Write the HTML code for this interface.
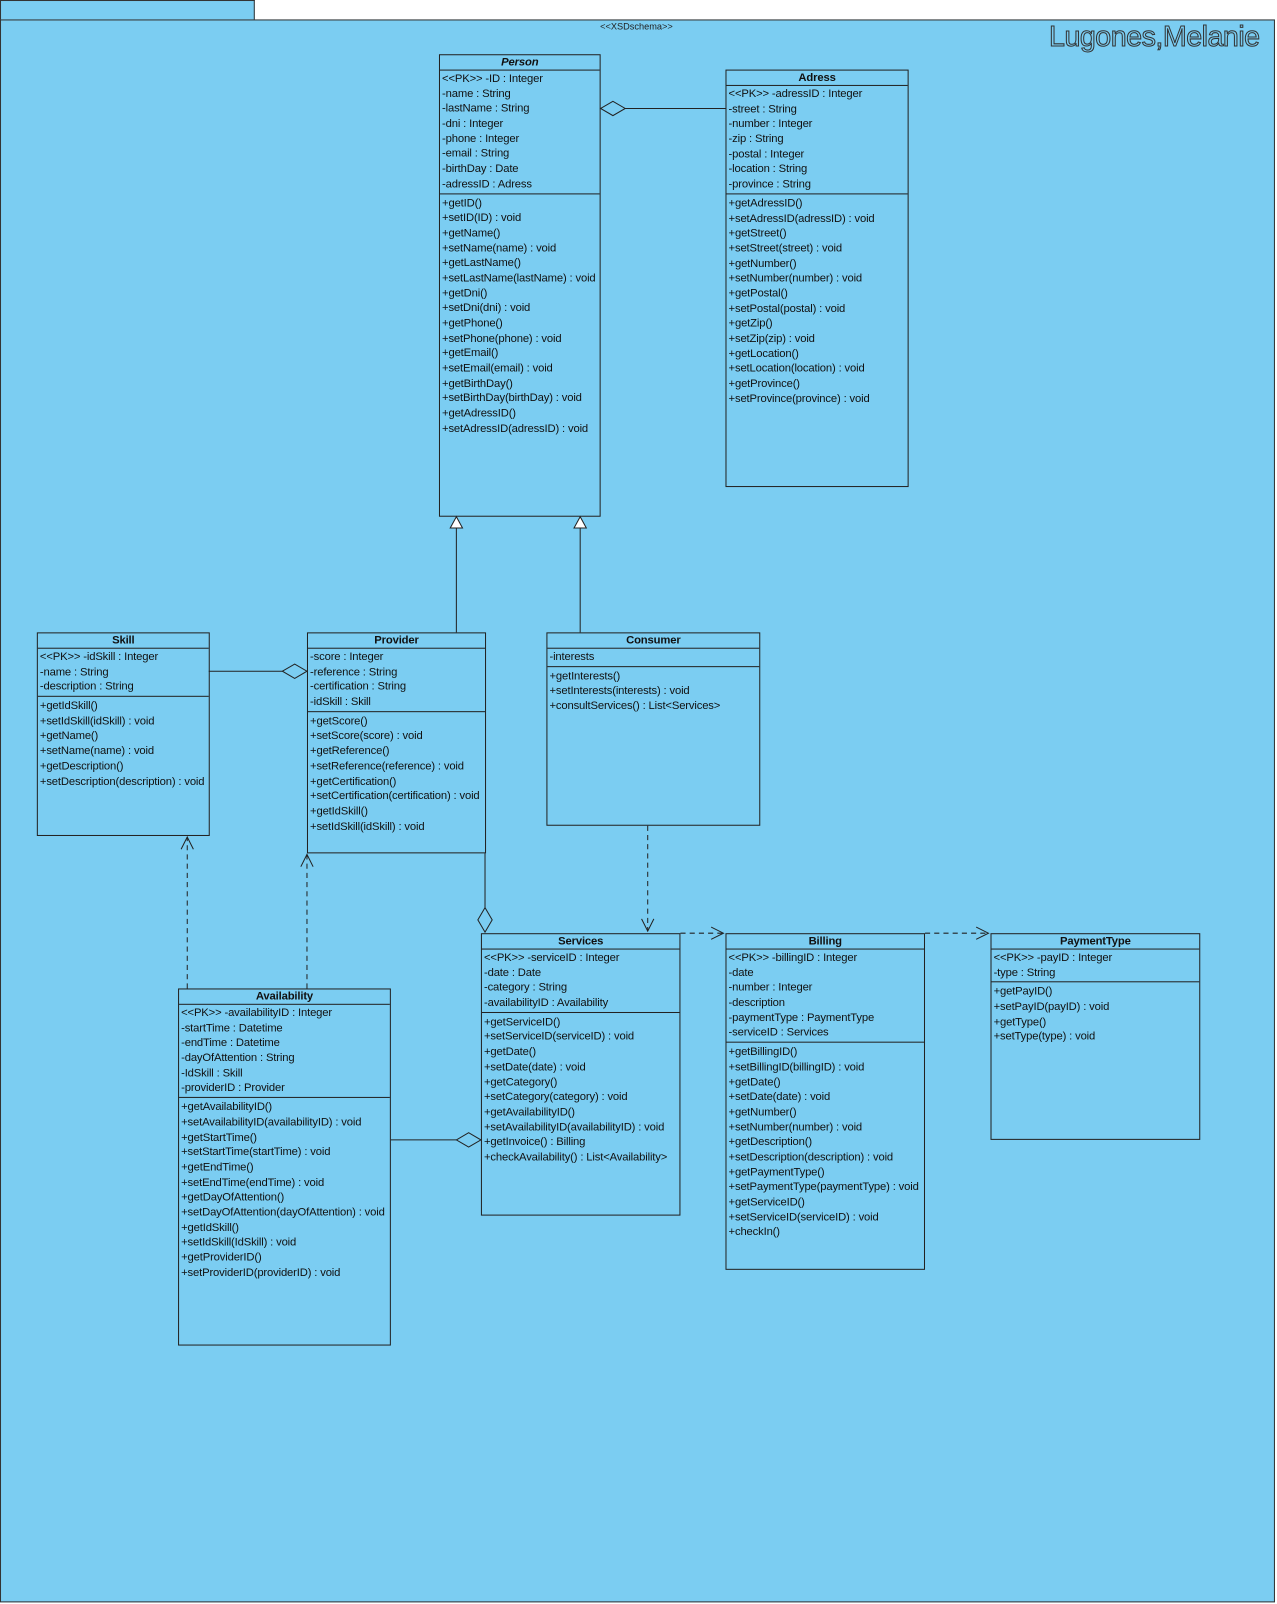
<!DOCTYPE html>
<html><head><meta charset="utf-8"><style>
*{margin:0;padding:0;box-sizing:border-box}
body{width:1277px;height:1604px;background:#fff;overflow:hidden;font-family:"Liberation Sans",Arial,sans-serif}
#w{position:absolute;left:0;top:0;width:1248px;height:1568px;transform:scale(1.02324);transform-origin:0 0}
.frame{position:absolute;left:0;top:19px;width:1246px;height:1547px;background:#7bcdf2;border:1px solid #333}
.tab{position:absolute;left:0;top:0;width:249px;height:20px;background:#7bcdf2;border:1px solid #333;border-bottom:none}
.box{position:absolute;border:1px solid #222;font-size:11px;color:#111;letter-spacing:-0.15px}
.t{height:15px;line-height:14px;text-align:center;font-weight:bold;border-bottom:1px solid #222}
.a{padding:1px 0 1px 2px;border-bottom:1px solid #222}
.m{padding:2px 0 0 2px}
.a div,.m div{height:14.7px;line-height:14.7px;white-space:nowrap}
svg{position:absolute;left:0;top:0}
</style></head><body><div id="w">
<div class="tab"></div><div class="frame"></div>
<div style="position:absolute;left:560px;top:21px;width:124px;text-align:center;font-size:9px;color:#222">&lt;&lt;XSDschema&gt;&gt;</div>
<div style="position:absolute;right:17px;top:20px;font-size:28px;color:#7bcdf2;-webkit-text-stroke:1px #333;letter-spacing:-0.5px">Lugones,Melanie</div>

<div class="box" style="left:429px;top:53px;width:158px;height:452px"><div class="t"><i>Person</i></div>
<div class="a"><div>&lt;&lt;PK&gt;&gt; -ID : Integer</div><div>-name : String</div><div>-lastName : String</div><div>-dni : Integer</div><div>-phone : Integer</div><div>-email : String</div><div>-birthDay : Date</div><div>-adressID : Adress</div></div>
<div class="m"><div>+getID()</div><div>+setID(ID) : void</div><div>+getName()</div><div>+setName(name) : void</div><div>+getLastName()</div><div>+setLastName(lastName) : void</div><div>+getDni()</div><div>+setDni(dni) : void</div><div>+getPhone()</div><div>+setPhone(phone) : void</div><div>+getEmail()</div><div>+setEmail(email) : void</div><div>+getBirthDay()</div><div>+setBirthDay(birthDay) : void</div><div>+getAdressID()</div><div>+setAdressID(adressID) : void</div></div></div>

<div class="box" style="left:709px;top:68px;width:179px;height:408px"><div class="t">Adress</div>
<div class="a"><div>&lt;&lt;PK&gt;&gt; -adressID : Integer</div><div>-street : String</div><div>-number : Integer</div><div>-zip : String</div><div>-postal : Integer</div><div>-location : String</div><div>-province : String</div></div>
<div class="m"><div>+getAdressID()</div><div>+setAdressID(adressID) : void</div><div>+getStreet()</div><div>+setStreet(street) : void</div><div>+getNumber()</div><div>+setNumber(number) : void</div><div>+getPostal()</div><div>+setPostal(postal) : void</div><div>+getZip()</div><div>+setZip(zip) : void</div><div>+getLocation()</div><div>+setLocation(location) : void</div><div>+getProvince()</div><div>+setProvince(province) : void</div></div></div>

<div class="box" style="left:36px;top:618px;width:169px;height:199px"><div class="t">Skill</div>
<div class="a"><div>&lt;&lt;PK&gt;&gt; -idSkill : Integer</div><div>-name : String</div><div>-description : String</div></div>
<div class="m"><div>+getIdSkill()</div><div>+setIdSkill(idSkill) : void</div><div>+getName()</div><div>+setName(name) : void</div><div>+getDescription()</div><div>+setDescription(description) : void</div></div></div>

<div class="box" style="left:300px;top:618px;width:175px;height:216px"><div class="t">Provider</div>
<div class="a"><div>-score : Integer</div><div>-reference : String</div><div>-certification : String</div><div>-idSkill : Skill</div></div>
<div class="m"><div>+getScore()</div><div>+setScore(score) : void</div><div>+getReference()</div><div>+setReference(reference) : void</div><div>+getCertification()</div><div>+setCertification(certification) : void</div><div>+getIdSkill()</div><div>+setIdSkill(idSkill) : void</div></div></div>

<div class="box" style="left:534px;top:618px;width:209px;height:189px"><div class="t">Consumer</div>
<div class="a"><div>-interests</div></div>
<div class="m"><div>+getInterests()</div><div>+setInterests(interests) : void</div><div>+consultServices() : List&lt;Services&gt;</div></div></div>

<div class="box" style="left:470px;top:912px;width:195px;height:276px"><div class="t">Services</div>
<div class="a"><div>&lt;&lt;PK&gt;&gt; -serviceID : Integer</div><div>-date : Date</div><div>-category : String</div><div>-availabilityID : Availability</div></div>
<div class="m"><div>+getServiceID()</div><div>+setServiceID(serviceID) : void</div><div>+getDate()</div><div>+setDate(date) : void</div><div>+getCategory()</div><div>+setCategory(category) : void</div><div>+getAvailabilityID()</div><div>+setAvailabilityID(availabilityID) : void</div><div>+getInvoice() : Billing</div><div>+checkAvailability() : List&lt;Availability&gt;</div></div></div>

<div class="box" style="left:709px;top:912px;width:195px;height:329px"><div class="t">Billing</div>
<div class="a"><div>&lt;&lt;PK&gt;&gt; -billingID : Integer</div><div>-date</div><div>-number : Integer</div><div>-description</div><div>-paymentType : PaymentType</div><div>-serviceID : Services</div></div>
<div class="m"><div>+getBillingID()</div><div>+setBillingID(billingID) : void</div><div>+getDate()</div><div>+setDate(date) : void</div><div>+getNumber()</div><div>+setNumber(number) : void</div><div>+getDescription()</div><div>+setDescription(description) : void</div><div>+getPaymentType()</div><div>+setPaymentType(paymentType) : void</div><div>+getServiceID()</div><div>+setServiceID(serviceID) : void</div><div>+checkIn()</div></div></div>

<div class="box" style="left:968px;top:912px;width:205px;height:202px"><div class="t">PaymentType</div>
<div class="a"><div>&lt;&lt;PK&gt;&gt; -payID : Integer</div><div>-type : String</div></div>
<div class="m"><div>+getPayID()</div><div>+setPayID(payID) : void</div><div>+getType()</div><div>+setType(type) : void</div></div></div>

<div class="box" style="left:174px;top:966px;width:208px;height:349px"><div class="t">Availability</div>
<div class="a"><div>&lt;&lt;PK&gt;&gt; -availabilityID : Integer</div><div>-startTime : Datetime</div><div>-endTime : Datetime</div><div>-dayOfAttention : String</div><div>-IdSkill : Skill</div><div>-providerID : Provider</div></div>
<div class="m"><div>+getAvailabilityID()</div><div>+setAvailabilityID(availabilityID) : void</div><div>+getStartTime()</div><div>+setStartTime(startTime) : void</div><div>+getEndTime()</div><div>+setEndTime(endTime) : void</div><div>+getDayOfAttention()</div><div>+setDayOfAttention(dayOfAttention) : void</div><div>+getIdSkill()</div><div>+setIdSkill(IdSkill) : void</div><div>+getProviderID()</div><div>+setProviderID(providerID) : void</div></div></div>

<svg width="1248" height="1568" fill="none" stroke="#222" stroke-width="1">
<line x1="611" y1="106" x2="709" y2="106"/><polygon points="587,106 599,99 611,106 599,113" fill="#7bcdf2"/>
<line x1="204" y1="656" x2="276" y2="656"/><polygon points="276,656 288,649 300,656 288,663" fill="#7bcdf2"/>
<line x1="446" y1="618" x2="446" y2="516"/><polygon points="446,505 440,516 452,516" fill="#fff"/>
<line x1="567" y1="618" x2="567" y2="516"/><polygon points="567,505 561,516 573,516" fill="#fff"/>
<line x1="474" y1="834" x2="474" y2="887"/><polygon points="474,887 481,899 474,911 467,899" fill="#7bcdf2"/>
<line x1="382" y1="1114" x2="446" y2="1114"/><polygon points="446,1114 458,1107 470,1114 458,1121" fill="#7bcdf2"/>
<g stroke-dasharray="5,4">
<line x1="183" y1="966" x2="183" y2="818"/><line x1="300" y1="966" x2="300" y2="835"/>
<line x1="633" y1="807" x2="633" y2="910"/><line x1="665" y1="912" x2="707" y2="912"/><line x1="904" y1="912" x2="966" y2="912"/></g>
<polyline points="177,830 183,818 189,830"/><polyline points="294,847 300,835 306,847"/>
<polyline points="627,898 633,910 639,898"/><polyline points="695,906 707,912 695,918"/><polyline points="954,906 966,912 954,918"/>
</svg>
</div></body></html>
